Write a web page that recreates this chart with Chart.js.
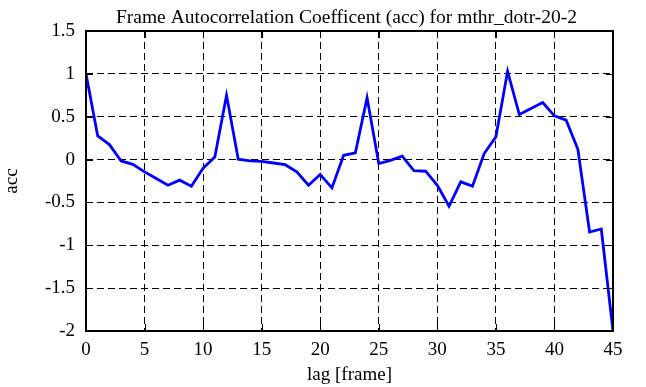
<!DOCTYPE html>
<html>
<head>
<meta charset="utf-8">
<script src="https://cdn.jsdelivr.net/npm/chart.js@4"></script>
<style>
  html, body { margin: 0; padding: 0; background: #fff; }
  #wrap { width: 646px; height: 387px; }
</style>
</head>
<body>
<div id="wrap"><canvas id="myChart" width="646" height="387"></canvas></div>
<script>
// ------------------   DATA   ----------------
const lags = [];
for (let i = 0; i <= 45; i++) lags.push(i);
const accValues = [
  1.0, 0.276, 0.175, -0.016, -0.055, -0.144, -0.22, -0.30, -0.24, -0.31,
  -0.10, 0.03, 0.75, 0.004, -0.016, -0.02, -0.04, -0.06, -0.144, -0.30,
  -0.175, -0.33, 0.05, 0.078, 0.72, -0.047, -0.01, 0.04, -0.13, -0.136,
  -0.30, -0.545, -0.26, -0.31, 0.07, 0.265, 1.03, 0.525, 0.595, 0.665,
  0.51, 0.46, 0.12, -0.845, -0.81, -2.0
];
const xTicks = [0, 5, 10, 15, 20, 25, 30, 35, 40, 45];
const yTicks = [-2, -1.5, -1, -0.5, 0, 0.5, 1, 1.5];
const yTickLabels = ['-2', '-1.5', '-1', '-0.5', '0', '0.5', '1', '1.5'];
const chartTitle = 'Frame Autocorrelation Coefficent (acc) for mthr_dotr-20-2';

const FONT = 'Liberation Serif, Times New Roman, serif';

// ------------   PLUGINS   ----------------------
// frame box + inward tick marks (matlab look), title centred on the plot
const frameTicks = {
  id: 'frameTicks',
  afterDraw(chart) {
    const { ctx, chartArea: a, scales } = chart;
    const len = 7;
    ctx.save();
    ctx.strokeStyle = '#000';
    ctx.lineWidth = 1;
    ctx.beginPath();
    for (const v of xTicks) {
      const px = Math.round(scales.x.getPixelForValue(v)) + 0.5;
      ctx.moveTo(px, a.bottom); ctx.lineTo(px, a.bottom - len);
      ctx.moveTo(px, a.top); ctx.lineTo(px, a.top + len);
    }
    for (const v of yTicks) {
      const py = Math.round(scales.y.getPixelForValue(v)) + 0.5;
      ctx.moveTo(a.left, py); ctx.lineTo(a.left + len, py);
      ctx.moveTo(a.right, py); ctx.lineTo(a.right - len, py);
    }
    ctx.stroke();
    ctx.lineWidth = 2;
    ctx.strokeRect(a.left, a.top, a.right - a.left, a.bottom - a.top);

    ctx.fillStyle = '#000';
    ctx.font = '19.5px ' + FONT;
    ctx.textAlign = 'center';
    ctx.textBaseline = 'alphabetic';
    ctx.fillText(chartTitle, (a.left + a.right) / 2 - 3, 23);
    ctx.restore();
  },
};

// ------------   CHART   ----------------------
const ctx = document.getElementById('myChart').getContext('2d');
const myChart = new Chart(ctx, {
  type: 'line',
  data: {
    labels: lags,
    datasets: [
      {
        label: 'acc',
        data: lags.map((l, i) => ({ x: l, y: accValues[i] })),
        borderColor: '#0000ff',
        borderWidth: 2.8,
        pointRadius: 0,
        tension: 0,
        fill: false,
      },
    ],
  },
  options: {
    responsive: false,
    animation: false,
    layout: { padding: { top: 31, right: 33, bottom: 0, left: 0 } },
    plugins: {
      legend: { display: false },
      tooltip: { enabled: false },
      title: { display: false },
    },
    scales: {
      x: {
        type: 'linear',
        min: 0,
        max: 45,
        afterBuildTicks(scale) {
          scale.ticks = xTicks.map((v) => ({ value: v }));
        },
        afterFit(scale) {
          scale.height = 56;
        },
        grid: {
          color: (c) => (c.tick && (c.tick.value === 0 || c.tick.value === 45) ? 'rgba(0,0,0,0)' : '#000'),
          lineWidth: 1,
          drawTicks: false,
        },
        border: { display: false, dash: [7, 4] },
        ticks: {
          color: '#000',
          padding: 8,
          maxRotation: 0,
          font: { family: FONT, size: 19 },
        },
        title: {
          display: true,
          text: 'lag [frame]',
          color: '#000',
          font: { family: FONT, size: 19 },
          padding: { top: 0, bottom: 1 },
        },
      },
      y: {
        type: 'linear',
        min: -2,
        max: 1.5,
        afterBuildTicks(scale) {
          scale.ticks = yTicks.map((v) => ({ value: v }));
        },
        afterFit(scale) {
          scale.width = 86;
        },
        grid: {
          color: (c) => (c.tick && (c.tick.value === -2 || c.tick.value === 1.5) ? 'rgba(0,0,0,0)' : '#000'),
          lineWidth: 1,
          drawTicks: false,
        },
        border: { display: false, dash: [7, 4] },
        ticks: {
          color: '#000',
          padding: 11,
          font: { family: FONT, size: 19 },
          callback: (v) => yTickLabels[yTicks.indexOf(v)],
        },
        title: {
          display: true,
          text: 'acc',
          color: '#000',
          font: { family: FONT, size: 19 },
          padding: { top: 1, bottom: 1 },
        },
      },
    },
  },
  plugins: [frameTicks],
});
</script>
</body>
</html>
